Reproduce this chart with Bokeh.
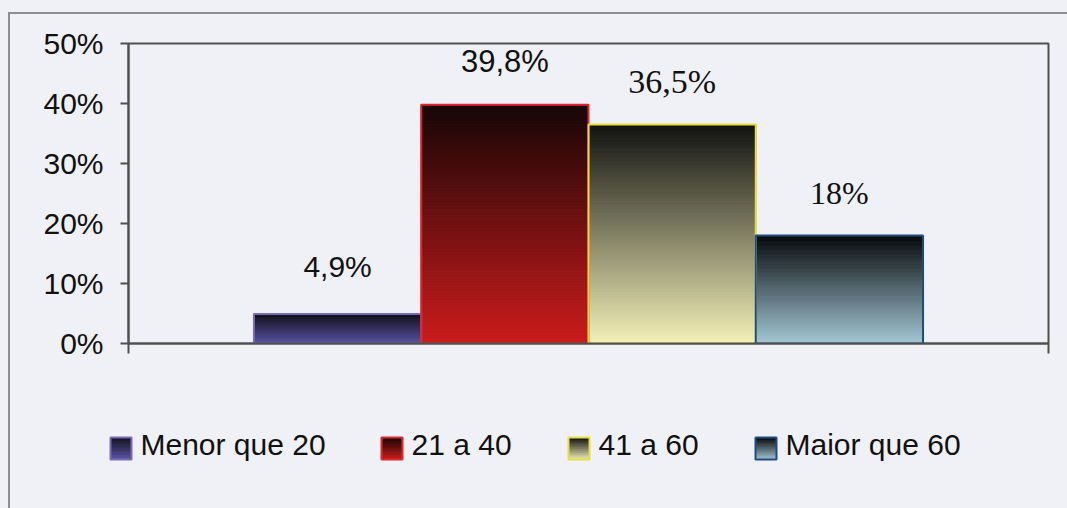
import numpy as np
from bokeh.plotting import figure
from bokeh.layouts import column, row
from bokeh.core.properties import value
from bokeh.models import (ColumnDataSource, Range1d, FixedTicker, PrintfTickFormatter)
from bokeh.embed import file_html
from bokeh.resources import INLINE

# ---------------- data ----------------
series = ["Menor que 20", "21 a 40", "41 a 60", "Maior que 60"]
values = [4.9, 39.8, 36.5, 18.0]
y_ticks = [0, 10, 20, 30, 40, 50]

# ---------------- style ----------------
top_colors = ["#14121e", "#170606", "#121212", "#080a0c"]
bottom_colors = ["#5b55a8", "#cc1c1c", "#f4f1b8", "#a5c8d6"]
border_colors = ["#7a68b8", "#e3262a", "#e6df3c", "#1d4d7e"]
label_fonts = ["Liberation Sans", "Liberation Sans", "Liberation Serif", "Liberation Serif"]
label_sizes = ["30px", "31px", "34px", "32px"]
label_dy = [-48, -43, -43, -43]
BG = "#f0f0f7"
AXIS = "#505050"
PAGE_LINE = "#8c8c92"
TEXT = "#111111"
GAP = 1.5
N_STRIPS = 80
W, H = 1067, 508
PAD_L, PAD_T, RULE = 8, 12, 2          # outer page rule (left / top)
X0, Y0 = PAD_L + RULE, PAD_T + RULE    # where the figures start on the page
CHART_BOTTOM = 380
# legend layout (page pixels)
LEG_X = [110, 381, 568, 755]
LEG_SW, LEG_SH = 21, 22
LEG_TOP = 437
LEG_TEXT_DX = 30
LEG_BASELINE = 444


def hex2rgb(h):
    h = h.lstrip("#")
    return np.array([int(h[i:i + 2], 16) for i in (0, 2, 4)], dtype=float)


def mix(c_bottom, c_top, t):
    a, b = hex2rgb(c_bottom), hex2rgb(c_top)
    c = a * (1 - t) + b * t
    return "#%02x%02x%02x" % tuple(int(round(x)) for x in c)


def gradient_cols(i, n_strips):
    t = np.linspace(0, 1, n_strips + 1)
    mids = (t[:-1] + t[1:]) / 2
    return t, [mix(bottom_colors[i], top_colors[i], m) for m in mids]


# ---------------- chart ----------------
p = figure(width=W - X0, height=CHART_BOTTOM - Y0, x_range=Range1d(0, 1), y_range=Range1d(0, 50),
           output_backend="svg", toolbar_location=None,
           min_border_left=128 - X0, min_border_right=19, min_border_top=43 - Y0,
           min_border_bottom=37,
           background_fill_color=BG, border_fill_color=BG,
           outline_line_color=AXIS, outline_line_width=2)
p.xgrid.visible = False
p.ygrid.visible = False

n = len(series)
w = 1.0 / (n + GAP)
lefts = [0.5 - n * w / 2 + i * w for i in range(n)]
centers = [l + w / 2 for l in lefts]

for i, v in enumerate(values):
    t, cols = gradient_cols(i, N_STRIPS)
    src = ColumnDataSource(dict(left=[lefts[i]] * N_STRIPS, right=[lefts[i] + w] * N_STRIPS,
                                bottom=v * t[:-1], top=v * t[1:], color=cols))
    p.quad(left="left", right="right", bottom="bottom", top="top", source=src,
           fill_color="color", line_color="color", line_width=1)

osrc = ColumnDataSource(dict(left=lefts, right=[l + w for l in lefts], bottom=[0] * n,
                             top=values, color=border_colors))
p.quad(left="left", right="right", bottom="bottom", top="top", source=osrc,
       fill_alpha=0, line_color="color", line_width=2)

labels = [("%g" % v).replace(".", ",") + "%" for v in values]
lsrc = ColumnDataSource(dict(x=centers, y=values, text=labels, font=label_fonts,
                             size=label_sizes, dy=label_dy))
p.text(x="x", y="y", text="text", source=lsrc, text_font="font", text_font_size="size",
       text_align="center", text_baseline="alphabetic", y_offset="dy", text_color=TEXT)

# axes
p.yaxis.ticker = FixedTicker(ticks=y_ticks)
p.yaxis.formatter = PrintfTickFormatter(format="%d%%")
p.yaxis.major_label_text_font = "Liberation Sans"
p.yaxis.major_label_text_font_size = "30px"
p.yaxis.major_label_text_color = TEXT
p.yaxis.major_tick_out = 8
p.yaxis.major_tick_in = 0
p.yaxis.minor_tick_line_color = None
p.yaxis.major_label_standoff = 17
p.yaxis.axis_line_color = AXIS
p.yaxis.axis_line_width = 2
p.yaxis.major_tick_line_color = AXIS
p.yaxis.major_tick_line_width = 2

p.xaxis.ticker = FixedTicker(ticks=[0, 1])
p.xaxis.major_label_overrides = {0: "", 1: ""}
p.xaxis.major_tick_out = 10
p.xaxis.major_tick_in = 0
p.xaxis.minor_tick_line_color = None
p.xaxis.axis_line_color = AXIS
p.xaxis.axis_line_width = 2
p.xaxis.major_tick_line_color = AXIS
p.xaxis.major_tick_line_width = 2

# ---------------- legend (below the chart) ----------------
lg = figure(width=W - X0, height=H - CHART_BOTTOM, x_range=Range1d(X0, W),
            y_range=Range1d(H, CHART_BOTTOM),
            output_backend="svg", toolbar_location=None, x_axis_type=None, y_axis_type=None,
            min_border=0, background_fill_color=BG, border_fill_color=BG,
            outline_line_color=None)
lg.xgrid.visible = False
lg.ygrid.visible = False

LEG_STRIPS = 12
for i in range(n):
    t, cols = gradient_cols(i, LEG_STRIPS)
    x0 = LEG_X[i]
    ssrc = ColumnDataSource(dict(left=[x0] * LEG_STRIPS, right=[x0 + LEG_SW] * LEG_STRIPS,
                                 bottom=LEG_TOP + LEG_SH - LEG_SH * t[:-1],
                                 top=LEG_TOP + LEG_SH - LEG_SH * t[1:], color=cols))
    lg.quad(left="left", right="right", bottom="bottom", top="top", source=ssrc,
            fill_color="color", line_color="color", line_width=1)

lbox = ColumnDataSource(dict(left=LEG_X, right=[x + LEG_SW for x in LEG_X],
                             bottom=[LEG_TOP + LEG_SH] * n, top=[LEG_TOP] * n,
                             color=border_colors))
lg.quad(left="left", right="right", bottom="bottom", top="top", source=lbox,
        fill_alpha=0, line_color="color", line_width=2)
ltxt = ColumnDataSource(dict(x=[x + LEG_TEXT_DX for x in LEG_X], y=[LEG_BASELINE] * n,
                             text=series))
lg.text(x="x", y="y", text="text", source=ltxt, text_font=value("Liberation Sans"),
        text_font_size="30px", text_align="left", text_baseline="alphabetic",
        text_color=TEXT)

inner = column(p, row(lg, spacing=0), spacing=0,
               styles={"background-color": BG,
                       "border-left": f"{RULE}px solid {PAGE_LINE}",
                       "border-top": f"{RULE}px solid {PAGE_LINE}"})
layout = column(inner, spacing=0,
                styles={"background-color": BG,
                        "padding-left": f"{PAD_L}px", "padding-top": f"{PAD_T}px"})
open("out.html", "w").write(file_html(layout, INLINE))
